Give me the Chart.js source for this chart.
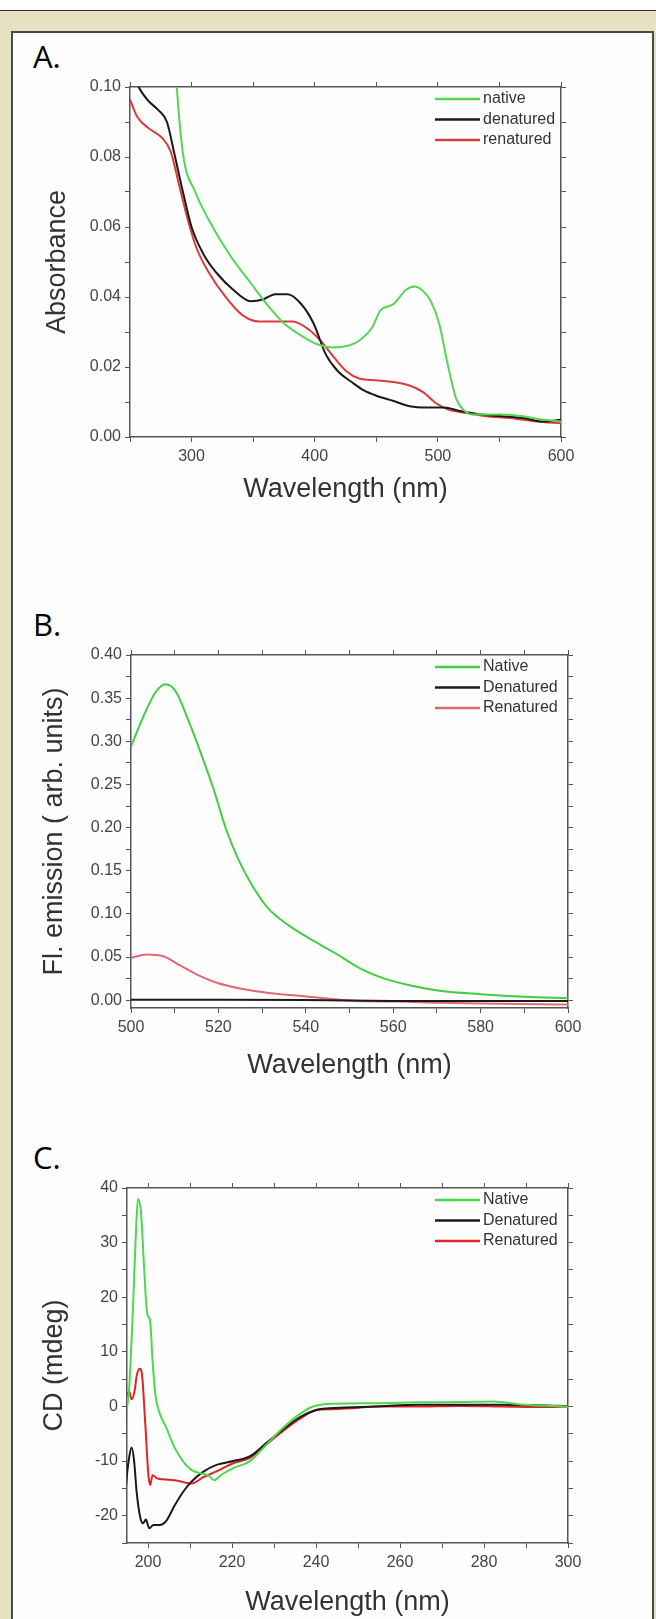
<!DOCTYPE html>
<html lang="en">
<head>
<meta charset="UTF-8">
<title>Absorbance, fluorescence and CD spectra</title>
<script src="https://cdn.jsdelivr.net/npm/chart.js@4.4.1/dist/chart.umd.min.js"></script>
<style>
  html, body { margin: 0; padding: 0; }
  body { width: 656px; height: 1619px; overflow: hidden; position: relative; background: #e7e1c4; }
  .topstrip { position: absolute; left: 0; top: 0; width: 656px; height: 10px; background: #fff; border-bottom: 1.5px solid #333; }
  .panel { position: absolute; left: 11px; top: 31px; width: 639px; height: 1620px; background: #fefefe; border: 2px solid #4a4a4a; border-bottom: none; }
  .tag { position: absolute; left: 33px; font: 31px/1 "Open Sans", sans-serif; color: #000; }
  canvas { position: absolute; left: 0; }
</style>
</head>
<body>
<div class="topstrip"></div>
<div class="panel"></div>
<div class="tag" style="top:41px">A.</div>
<div class="tag" style="top:609px">B.</div>
<div class="tag" style="top:1142px">C.</div>
<canvas id="chartA" width="656" height="460" style="top:57px"></canvas>
<canvas id="chartB" width="656" height="463" style="top:625px"></canvas>
<canvas id="chartC" width="656" height="465" style="top:1158px"></canvas>

<script>
// A. absorbance
const absNativeX = [284, 288, 293, 303, 314, 331, 348, 361, 375, 389, 402, 416, 426, 436, 447, 453, 464, 474, 481, 487, 494, 501, 508, 515, 522, 528, 552, 569, 586, 600];
const absNativeY = [0.125, 0.100, 0.081, 0.070, 0.062, 0.052, 0.044, 0.038, 0.0325, 0.029, 0.0265, 0.0256, 0.026, 0.0275, 0.0315, 0.036, 0.038, 0.042, 0.043, 0.042, 0.039, 0.0325, 0.0207, 0.0108, 0.0074, 0.0064, 0.0064, 0.0059, 0.0049, 0.0044];
const absDenatX = [250, 257, 265, 273, 280, 286, 293, 300, 310, 320, 334, 348, 358, 368, 378, 389, 399, 409, 419, 430, 440, 450, 464, 477, 491, 505, 518, 535, 552, 569, 586, 600];
const absDenatY = [0.106, 0.100, 0.096, 0.0934, 0.090, 0.081, 0.070, 0.060, 0.052, 0.047, 0.042, 0.0388, 0.0393, 0.0408, 0.0408, 0.038, 0.0325, 0.0236, 0.0187, 0.0157, 0.0133, 0.0118, 0.0103, 0.0088, 0.0084, 0.0084, 0.0074, 0.0064, 0.0059, 0.0054, 0.0044, 0.0049];
const absRenatX = [250, 256, 266, 276, 283, 290, 297, 304, 314, 327, 341, 355, 368, 382, 396, 406, 416, 426, 436, 450, 464, 477, 488, 498, 508, 522, 539, 559, 580, 600];
const absRenatY = [0.0964, 0.0914, 0.088, 0.0855, 0.0816, 0.0718, 0.062, 0.054, 0.047, 0.0403, 0.0349, 0.033, 0.033, 0.033, 0.0305, 0.027, 0.0226, 0.0187, 0.0167, 0.0162, 0.0157, 0.0147, 0.0128, 0.0098, 0.0079, 0.0069, 0.0059, 0.0054, 0.0044, 0.0039];

// B. fluorescence emission
const flNativeX = [500, 502.6, 505.5, 507.9, 510.2, 513, 516, 519, 521.7, 524.6, 527.5, 531.3, 536, 541, 546.6, 552.4, 558, 564, 570.6, 580, 590, 600];
const flNativeY = [0.294, 0.326, 0.356, 0.366, 0.358, 0.326, 0.286, 0.243, 0.199, 0.163, 0.135, 0.107, 0.087, 0.071, 0.055, 0.037, 0.025, 0.017, 0.011, 0.007, 0.004, 0.0024];
const flDenatX = [500, 520, 540, 560, 580, 600];
const flDenatY = [0.0005, 0.0005, 0.0002, -0.0008, -0.001, -0.001];
const flRenatX = [500, 503.5, 507.4, 511, 515, 519.8, 525.6, 532, 539, 546.6, 552, 561, 570.6, 585, 600];
const flRenatY = [0.049, 0.053, 0.051, 0.041, 0.030, 0.020, 0.013, 0.008, 0.005, 0.001, -0.001, -0.0016, -0.003, -0.004, -0.005];

// C. circular dichroism
const cdNativeX = [194.5, 194.8, 195.5, 196.3, 197.1, 197.6, 198.3, 199.1, 199.8, 200.5, 201.1, 201.8, 202.8, 204.3, 206.3, 208.3, 210.3, 212.3, 214.3, 215.8, 217.3, 220.3, 224.3, 228.3, 232.3, 236.3, 239.3, 244.3, 254.3, 264.3, 274.3, 282.3, 289.3, 300];
const cdNativeY = [-12.6, -3.1, 3.1, 15.7, 31.4, 38, 35.8, 25.1, 17, 15.7, 8.2, 1.9, -1.3, -3.8, -7.5, -10, -11.6, -12.2, -12.6, -13.5, -12.6, -11.3, -10, -6.9, -3.8, -1.3, 0, 0.5, 0.6, 0.75, 0.8, 0.9, 0.3, 0];
const cdDenatX = [194.5, 194.8, 195.5, 196.1, 196.7, 197.3, 198.1, 198.8, 199.5, 200.3, 201.3, 202.8, 204.3, 206.3, 208.3, 210.3, 213.3, 216.3, 220.3, 224.3, 228.3, 232.3, 236.3, 240.3, 244.3, 254.3, 264.3, 274.3, 284.3, 300];
const cdDenatY = [-19.8, -14.4, -9.4, -7.5, -10, -15.7, -20.1, -21.4, -20.7, -22.3, -21.7, -21.7, -21, -18.2, -15.7, -13.8, -11.9, -10.7, -10, -9.1, -6.6, -4.1, -1.9, -0.6, -0.3, 0, 0.3, 0.3, 0.3, 0.1];
const cdRenatX = [194.5, 194.8, 195.5, 196.1, 196.8, 197.3, 198, 198.6, 199.3, 200.1, 200.5, 201.1, 202.3, 206.3, 210.3, 213.3, 216.3, 220.3, 224.3, 228.3, 232.3, 236.3, 240.3, 244.3, 249.3, 254.3, 264.3, 274.3, 284.3, 294.3, 300];
const cdRenatY = [4.4, 1.9, 2.8, 1.3, 2.8, 5.6, 6.9, 5.6, -2.5, -12.6, -14.4, -12.6, -13.2, -13.5, -14.1, -12.9, -11.9, -10.4, -9.4, -6.9, -4.4, -2.2, -0.6, -0.5, -0.3, 0, 0, 0.1, 0, -0.1, 0];

Chart.defaults.font.family = "'Liberation Sans', Arial, sans-serif";

// legend drawn inside the plot box, line sample then label
const lineLegend = {
    id: 'lineLegend',
    afterDraw(chart, args, opts) {
        const ctx = chart.ctx;
        const area = chart.chartArea;
        ctx.save();
        ctx.font = opts.font;
        ctx.textBaseline = 'middle';
        chart.data.datasets.forEach((ds, i) => {
            const y = area.top + opts.top + i * opts.spacing;
            ctx.strokeStyle = ds.borderColor;
            ctx.lineWidth = opts.lineWidth;
            ctx.beginPath();
            ctx.moveTo(opts.x, y);
            ctx.lineTo(opts.x + opts.length, y);
            ctx.stroke();
            ctx.fillStyle = opts.color;
            ctx.fillText(ds.label, opts.x + opts.length + 3, y);
        });
        ctx.restore();
    }
};

function points(xs, ys) {
    return xs.map((x, i) => ({ x: x, y: ys[i] }));
}

function labelEvery(step, digits) {
    return v => Math.abs(v / step - Math.round(v / step)) < 1e-6 ? v.toFixed(digits) : '';
}

function drawPanel(id, p) {
    const frame = { color: '#555', width: 1.5 };
    const grid = { drawOnChartArea: false, tickLength: 5, tickColor: '#555', tickWidth: 1 };
    const tickFont = { size: 16 };
    new Chart(document.getElementById(id), {
        type: 'line',
        data: {
            datasets: p.series.map(s => ({
                label: s.label,
                data: points(s.x, s.y),
                borderColor: s.color,
                borderWidth: p.lineWidth,
                pointRadius: 0,
                cubicInterpolationMode: 'monotone',
                fill: false
            }))
        },
        options: {
            responsive: false,
            animation: false,
            events: [],
            layout: { padding: 0 },
            plugins: {
                legend: { display: false },
                tooltip: { enabled: false },
                lineLegend: { x: 435, length: 45, top: 12, spacing: 20.5, lineWidth: 2.5, font: '16px "Liberation Sans", Arial, sans-serif', color: '#333' }
            },
            scales: {
                x: {
                    type: 'linear', position: 'bottom', min: p.xMin, max: p.xMax,
                    border: frame, grid: grid,
                    ticks: { stepSize: p.xStep, includeBounds: false, autoSkip: false, maxRotation: 0, padding: 5, color: '#444', font: tickFont, callback: labelEvery(p.xLabelStep, 0) },
                    title: { display: true, text: 'Wavelength (nm)', color: '#333', font: { size: 27 }, padding: { top: 0, bottom: p.xTitlePad } },
                    afterFit: s => { s.height = 80; }
                },
                x2: {
                    type: 'linear', position: 'top', min: p.xMin, max: p.xMax,
                    border: frame, grid: grid,
                    ticks: { display: false, stepSize: p.xStep, includeBounds: false },
                    afterFit: s => { s.height = 30; }
                },
                y: {
                    type: 'linear', position: 'left', min: p.yMin, max: p.yMax,
                    border: frame, grid: grid,
                    ticks: { stepSize: p.yStep, includeBounds: false, autoSkip: false, padding: 4, color: '#444', font: tickFont, callback: labelEvery(p.yLabelStep, p.yDigits) },
                    title: { display: true, text: p.yTitle, color: '#333', font: { size: 27 }, padding: { top: p.yTitlePad, bottom: 0 } },
                    afterFit: s => { s.width = p.left; }
                },
                y2: {
                    type: 'linear', position: 'right', min: p.yMin, max: p.yMax,
                    border: frame, grid: grid,
                    ticks: { display: false, stepSize: p.yStep, includeBounds: false },
                    afterFit: s => { s.width = 656 - p.right; }
                }
            }
        },
        plugins: [lineLegend]
    });
}

drawPanel('chartA', {
    left: 130, right: 561, lineWidth: 2,
    xMin: 250, xMax: 600, xStep: 50, xLabelStep: 100, xTitlePad: 10.8,
    yMin: 0, yMax: 0.10, yStep: 0.01, yLabelStep: 0.02, yDigits: 2,
    yTitle: 'Absorbance', yTitlePad: 41.8,
    series: [
        { label: 'native', x: absNativeX, y: absNativeY, color: '#55d655' },
        { label: 'denatured', x: absDenatX, y: absDenatY, color: '#1a1a1a' },
        { label: 'renatured', x: absRenatX, y: absRenatY, color: '#d83c3c' }
    ]
});

drawPanel('chartB', {
    left: 131, right: 568, lineWidth: 2,
    xMin: 500, xMax: 600, xStep: 10, xLabelStep: 20, xTitlePad: 5.8,
    yMin: -0.009, yMax: 0.40, yStep: 0.025, yLabelStep: 0.05, yDigits: 2,
    yTitle: 'Fl. emission ( arb. units)', yTitlePad: 38,
    series: [
        { label: 'Native', x: flNativeX, y: flNativeY, color: '#44cc44' },
        { label: 'Denatured', x: flDenatX, y: flDenatY, color: '#1a1a1a' },
        { label: 'Renatured', x: flRenatX, y: flRenatY, color: '#e06a72' }
    ]
});

drawPanel('chartC', {
    left: 127, right: 568, lineWidth: 2,
    xMin: 195, xMax: 300, xStep: 10, xLabelStep: 20, xTitlePad: 3.8,
    yMin: -25, yMax: 40, yStep: 5, yLabelStep: 10, yDigits: 0,
    yTitle: 'CD (mdeg)', yTitlePad: 38,
    series: [
        { label: 'Native', x: cdNativeX, y: cdNativeY, color: '#4cd94c' },
        { label: 'Denatured', x: cdDenatX, y: cdDenatY, color: '#1a1a1a' },
        { label: 'Renatured', x: cdRenatX, y: cdRenatY, color: '#e02424' }
    ]
});
</script>
</body>
</html>
